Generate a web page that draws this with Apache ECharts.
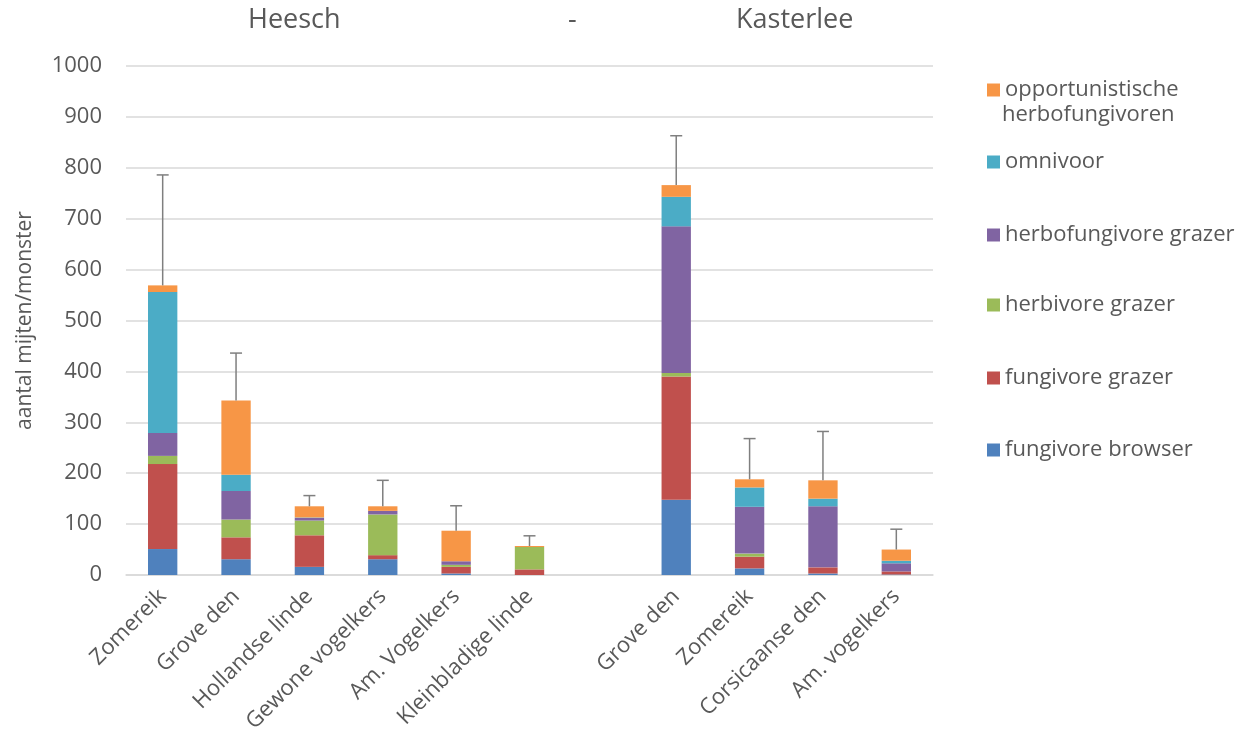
<!DOCTYPE html>
<html>
<head>
<meta charset="utf-8">
<script src="https://cdn.jsdelivr.net/npm/echarts@6/dist/echarts.min.js"></script>
<style>
  html, body { margin: 0; padding: 0; background: #fff; }
  #main { width: 1245px; height: 748px; }
</style>
</head>
<body>
<div id="main"></div>
<script>
// categorieen (lege kolom scheidt Heesch en Kasterlee)
const categories = ['Zomereik', 'Grove den', 'Hollandse linde', 'Gewone vogelkers', 'Am. Vogelkers', 'Kleinbladige linde',
  '', 'Grove den', 'Zomereik', 'Corsicaanse den', 'Am. vogelkers'];

// aantal mijten per functionele groep
const fungivoreBrowser = [51, 31, 16, 31, 3, 0, null, 148, 13, 3, 1];
const fungivoreGrazer = [167, 43, 62, 8, 13, 11, null, 242, 23, 12, 6];
const herbivoreGrazer = [16, 35, 29, 80, 4, 44, null, 7, 6, 0, 0];
const herbofungivoreGrazer = [45, 56, 5, 7, 7, 0, null, 288, 92, 120, 16];
const omnivoor = [277, 32, 1, 0, 0, 0, null, 58, 38, 15, 5];
const opportunistisch = [13, 146, 22, 9, 60, 2, null, 23, 16, 36, 22];

// foutbalken (standaardfout boven de stapel)
const errors = [217, 93, 21, 51, 49, 20, null, 97, 80, 96, 40];

const yTicks = { min: 0, max: 1000, interval: 100 };

const groups = [
  { name: 'fungivore browser', data: fungivoreBrowser, color: '#4f81bd' },
  { name: 'fungivore grazer', data: fungivoreGrazer, color: '#c0504d' },
  { name: 'herbivore grazer', data: herbivoreGrazer, color: '#9bbb59' },
  { name: 'herbofungivore grazer', data: herbofungivoreGrazer, color: '#8064a2' },
  { name: 'omnivoor', data: omnivoor, color: '#4bacc6' },
  { name: 'opportunistische herbofungivoren', data: opportunistisch, color: '#f79646' }
];

const totals = categories.map((c, i) => groups.reduce((s, g) => s + (g.data[i] || 0), 0));
const errData = categories.map((c, i) => errors[i] == null ? null : [i, totals[i], errors[i]]).filter(d => d);

const font = 'Open Sans, sans-serif';
const textGray = '#595959';

// legenda: elk item apart geplaatst, zoals in Excel
const legendTops = [74, 146, 219, 289, 362, 434];
const legendOrder = groups.slice().reverse();
const legends = legendOrder.map((g, k) => ({
  data: [g.name],
  left: 982,
  top: legendTops[k],
  itemWidth: 13,
  itemHeight: 13,
  itemGap: 0,
  icon: 'rect',
  formatter: name => name === 'opportunistische herbofungivoren' ? 'opportunistische' : name,
  textStyle: { fontFamily: font, fontSize: 22, color: textGray },
  selectedMode: false
}));

let chartDom = document.getElementById('main');
let myChart = echarts.init(chartDom);

let option = {
  animation: false,
  backgroundColor: '#fff',
  legend: legends,
  grid: { left: 126, right: 312, top: 66, bottom: 173 },
  graphic: [
    { type: 'text', left: 248, top: 7, style: { text: 'Heesch', font: '27px ' + font, fill: textGray } },
    { type: 'text', left: 568, top: 7, style: { text: '-', font: '27px ' + font, fill: textGray } },
    { type: 'text', left: 736, top: 7, style: { text: 'Kasterlee', font: '27px ' + font, fill: textGray } },
    { type: 'text', left: 1002, top: 104, style: { text: 'herbofungivoren', font: '22px ' + font, fill: textGray } }
  ],
  xAxis: {
    type: 'category',
    data: categories,
    axisTick: { show: false },
    axisLine: { lineStyle: { color: '#d9d9d9', width: 1.5 } },
    axisLabel: { rotate: 45, interval: 0, margin: 18, fontFamily: font, fontSize: 22, color: textGray }
  },
  yAxis: {
    type: 'value',
    min: yTicks.min,
    max: yTicks.max,
    interval: yTicks.interval,
    name: 'aantal mijten/monster',
    nameLocation: 'middle',
    nameGap: 90,
    nameTextStyle: { fontFamily: font, fontSize: 21, color: textGray },
    axisLine: { show: false },
    axisTick: { show: false },
    axisLabel: { margin: 24, fontFamily: font, fontSize: 22, color: textGray, formatter: v => String(v) },
    splitLine: { lineStyle: { color: '#d9d9d9', width: 1.5 } }
  },
  series: groups.map(g => ({
    name: g.name,
    type: 'bar',
    stack: 'totaal',
    data: g.data,
    barWidth: '40%',
    itemStyle: { color: g.color },
    emphasis: { disabled: true }
  })).concat([{
    name: 'fout',
    type: 'custom',
    data: errData,
    encode: { x: 0, y: 1 },
    z: 10,
    renderItem: function (params, api) {
      const x = api.value(0), top = api.value(1), e = api.value(2);
      const p0 = api.coord([x, top]);
      const p1 = api.coord([x, top + e]);
      const st = { stroke: '#7f7f7f', lineWidth: 1.5 };
      return {
        type: 'group',
        children: [
          { type: 'line', shape: { x1: p0[0], y1: p0[1], x2: p1[0], y2: p1[1] }, style: st },
          { type: 'line', shape: { x1: p1[0] - 6, y1: p1[1], x2: p1[0] + 6, y2: p1[1] }, style: st }
        ]
      };
    }
  }])
};

myChart.setOption(option);
</script>
</body>
</html>
